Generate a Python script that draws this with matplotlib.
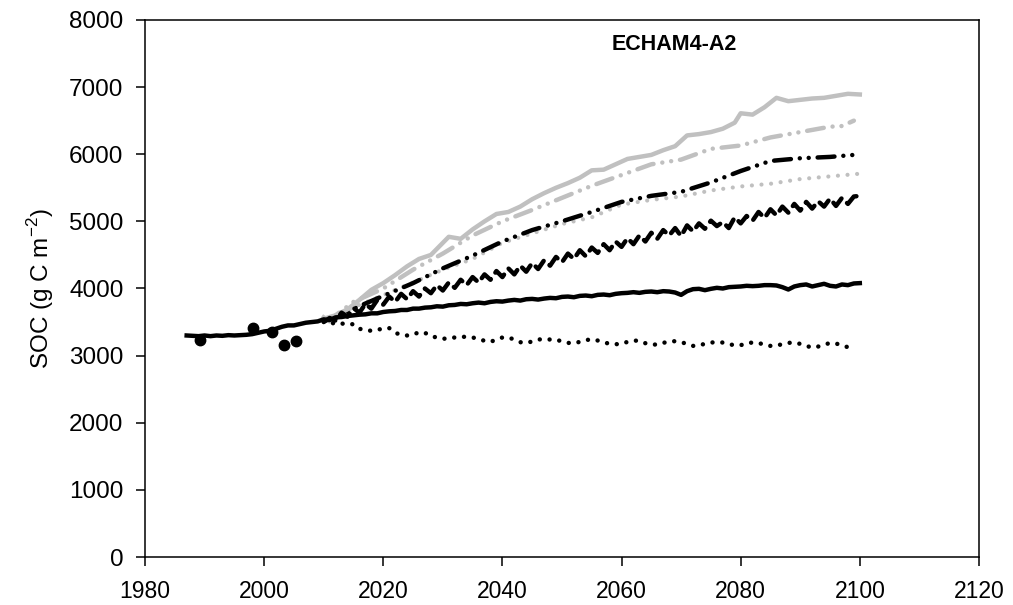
import numpy as np
import matplotlib.pyplot as plt

plt.rcParams['font.family'] = ['Liberation Sans', 'DejaVu Sans']
plt.rcParams['mathtext.fontset'] = 'custom'
plt.rcParams['mathtext.rm'] = 'Liberation Sans'

# observed SOC
obs_years = [1989.2, 1998.1, 2001.3, 2003.3, 2005.3]
obs_soc = [3230, 3410, 3355, 3160, 3220]

# baseline run (solid black), 1987-2100
base_years = list(range(1987, 2101))
base_soc = [3300, 3295, 3290, 3300, 3290, 3300, 3295, 3305, 3300, 3305,
            3310, 3320, 3340, 3360, 3370, 3400, 3430, 3450, 3450, 3470,
            3490, 3500, 3510, 3540, 3530, 3570, 3575, 3590, 3600, 3610,
            3615, 3630, 3630, 3650, 3660, 3665, 3680, 3680, 3700, 3700,
            3715, 3720, 3735, 3730, 3750, 3755, 3770, 3765, 3780, 3790,
            3780, 3800, 3810, 3805, 3820, 3830, 3820, 3840, 3845, 3835,
            3850, 3860, 3855, 3875, 3880, 3870, 3890, 3895, 3885, 3905,
            3910, 3900, 3920, 3930, 3935, 3945, 3935, 3950, 3955, 3945,
            3960, 3955, 3940, 3905, 3960, 3990, 3995, 3975, 3995, 4010,
            4000, 4020, 4025, 4030, 4040, 4035, 4040, 4050, 4050, 4045,
            4020, 3985, 4030, 4050, 4060, 4030, 4050, 4070, 4040, 4030,
            4060, 4050, 4075, 4080]

# low scenario (black dotted), 2010-2099
low_years = list(range(2010, 2100))
low_soc = [3530, 3500, 3470, 3480, 3460, 3470, 3400, 3380, 3370, 3380,
           3410, 3410, 3340, 3310, 3300, 3310, 3350, 3340, 3290, 3270,
           3250, 3260, 3270, 3280, 3280, 3270, 3250, 3220, 3205, 3240,
           3270, 3270, 3240, 3200, 3190, 3210, 3240, 3245, 3240, 3240,
           3210, 3190, 3185, 3205, 3230, 3245, 3225, 3200, 3175, 3170,
           3175, 3205, 3225, 3220, 3185, 3165, 3165, 3190, 3210, 3215,
           3200, 3175, 3145, 3155, 3175, 3195, 3200, 3195, 3170, 3155,
           3155, 3185, 3195, 3190, 3160, 3145, 3150, 3170, 3190, 3195,
           3175, 3145, 3120, 3135, 3160, 3190, 3180, 3155, 3125, 3110]

# zigzag scenario (black short dashes), 2010-2100
zig_years = list(range(2010, 2101))
zig_soc = [3500, 3560, 3520, 3640, 3580, 3710, 3640, 3770, 3700, 3830,
           3760, 3880, 3800, 3920, 3840, 3960, 3880, 4000, 3930, 4050,
           3970, 4090, 4010, 4130, 4050, 4170, 4090, 4210, 4130, 4260,
           4170, 4300, 4210, 4340, 4250, 4380, 4290, 4420, 4340, 4470,
           4390, 4520, 4440, 4570, 4480, 4610, 4530, 4660, 4570, 4700,
           4620, 4750, 4660, 4790, 4700, 4830, 4740, 4870, 4790, 4900,
           4780, 4940, 4850, 4970, 4890, 5010, 4930, 4990, 4900, 5060,
           4970, 5080, 5010, 5140, 5050, 5180, 5090, 5220, 5130, 5260,
           5160, 5290, 5190, 5300, 5220, 5340, 5230, 5350, 5260, 5370,
           5380]

# gray dotted scenario
gdot_years = [2010, 2012, 2015, 2020, 2025, 2030, 2035, 2040, 2045, 2050,
              2055, 2060, 2065, 2070, 2075, 2080, 2085, 2090, 2095, 2100]
gdot_soc = [3520, 3600, 3720, 3900, 4090, 4280, 4440, 4680, 4820, 4960,
            5060, 5250, 5320, 5370, 5460, 5520, 5560, 5630, 5670, 5710]

# black dash-dot-dot scenario
bdd_years = [2010, 2012, 2015, 2020, 2025, 2030, 2035, 2040, 2045, 2050,
             2055, 2060, 2065, 2070, 2075, 2080, 2085, 2090, 2095, 2099]
bdd_soc = [3520, 3560, 3700, 3890, 4080, 4300, 4490, 4700, 4870, 5000,
           5140, 5290, 5380, 5440, 5580, 5750, 5900, 5940, 5960, 5990]

# gray dash-dot-dot scenario
gdd_years = [2010, 2012, 2015, 2020, 2025, 2030, 2035, 2040, 2045, 2050,
             2055, 2060, 2065, 2070, 2075, 2080, 2085, 2090, 2095, 2097, 2099]
gdd_soc = [3550, 3600, 3800, 4000, 4280, 4520, 4790, 5000, 5170, 5350,
           5530, 5690, 5850, 5920, 6080, 6130, 6250, 6330, 6410, 6420, 6500]

# gray solid scenario
gsol_years = [2010, 2011, 2012, 2014, 2016, 2018, 2020, 2022, 2024, 2026,
              2028, 2030, 2031, 2033, 2035, 2037, 2039, 2041, 2043, 2045,
              2047, 2049, 2051, 2053, 2055, 2057, 2059, 2061, 2063, 2065,
              2067, 2069, 2071, 2073, 2075, 2077, 2079, 2080, 2082, 2084,
              2086, 2088, 2090, 2092, 2094, 2096, 2098, 2100]
gsol_soc = [3570, 3510, 3600, 3690, 3830, 3980, 4080, 4200, 4330, 4440,
            4500, 4680, 4770, 4740, 4880, 5000, 5110, 5140, 5220, 5330,
            5420, 5500, 5570, 5650, 5760, 5770, 5850, 5930, 5960, 5990,
            6060, 6120, 6280, 6300, 6330, 6380, 6470, 6610, 6590, 6700,
            6840, 6790, 6810, 6830, 6840, 6870, 6900, 6890]

gray = '#c0c0c0'
lw = 3.2

fig = plt.figure(figsize=(10.13, 6.05), dpi=100)
ax = fig.add_axes([0.1431, 0.0793, 0.8233, 0.8877])

ax.plot(gdot_years, gdot_soc, color=gray, lw=3.0,
        linestyle=(0, (0.01, 2.3)), dash_capstyle='round')
ax.plot(bdd_years, bdd_soc, color='black', lw=lw,
        linestyle=(0, (3.8, 2.0, 0.01, 2.0, 0.01, 2.0)), dash_capstyle='round')
ax.plot(gdd_years, gdd_soc, color=gray, lw=lw,
        linestyle=(0, (3.8, 2.0, 0.01, 2.0, 0.01, 2.0)), dash_capstyle='round')
ax.plot(gsol_years, gsol_soc, color=gray, lw=lw, solid_joinstyle='round')
ax.plot(zig_years, zig_soc, color='black', lw=lw,
        linestyle=(0, (3.0, 1.8)), dash_capstyle='round', dash_joinstyle='round')
ax.plot(low_years, low_soc, color='black', lw=3.2,
        linestyle=(0, (0.01, 2.2)), dash_capstyle='round')
ax.plot(base_years, base_soc, color='black', lw=lw, solid_joinstyle='round')
ax.plot(obs_years, obs_soc, 'o', color='black', markersize=7.5)

ax.set_xlim(1980, 2120)
ax.set_ylim(0, 8000)
ax.set_xticks(np.arange(1980, 2121, 20))
ax.set_yticks(np.arange(0, 8001, 1000))
ax.tick_params(direction='out', length=6.5, width=1.1,
               top=False, right=False)
ax.tick_params(axis='x', labelsize=16.5, pad=10)
ax.tick_params(axis='y', labelsize=17.5, pad=9)
for s in ax.spines.values():
    s.set_linewidth(1.1)

ax.set_ylabel('SOC (g C m$^{-2}$)', fontsize=17.5)
ax.yaxis.set_label_coords(-0.107, 0.5)
ax.text(2068.8, 7640, 'ECHAM4-A2', fontsize=15.5, fontweight='bold',
        ha='center', va='center')

fig.savefig('out.png', dpi=100)
